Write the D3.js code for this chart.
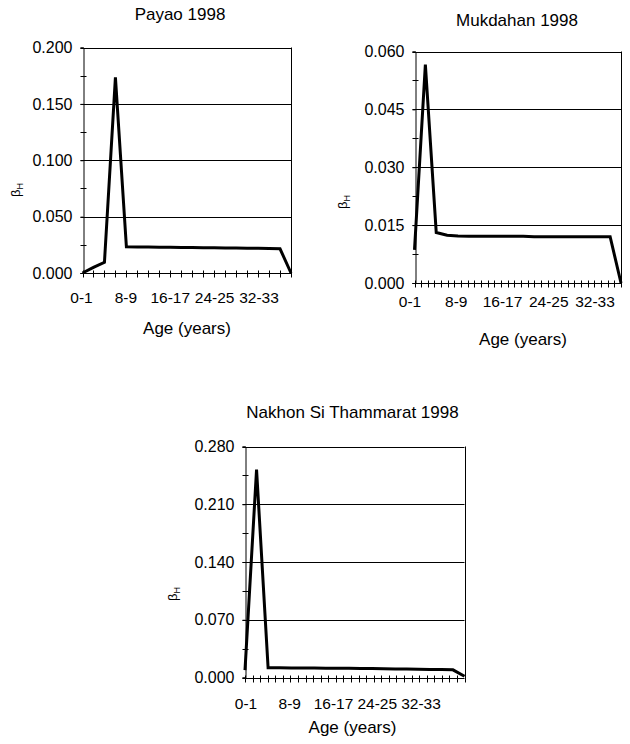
<!DOCTYPE html>
<html>
<head>
<meta charset="utf-8">
<script src="https://cdn.jsdelivr.net/npm/d3@7"></script>
<style>
  html, body { margin: 0; padding: 0; background: #fff; }
  svg { display: block; }
  text { font-family: "Liberation Sans", Arial, sans-serif; fill: #000; }
</style>
</head>
<body>
<svg id="chart" width="630" height="744"></svg>
<script>
// ---- Data ----
const categories = ["0-1","2-3","4-5","6-7","8-9","10-11","12-13","14-15","16-17","18-19",
                    "20-21","22-23","24-25","26-27","28-29","30-31","32-33","34-35","36-37","38-39"];
const ageTickLabels = ["0-1","8-9","16-17","24-25","32-33"];

const payaoValues = [0.000, 0.005, 0.0095, 0.1735, 0.0232, 0.0231, 0.0230, 0.0229, 0.0228, 0.0227,
                     0.0226, 0.0225, 0.0224, 0.0222, 0.0221, 0.0220, 0.0219, 0.0217, 0.0215, 0.000];
const mukdahanValues = [0.0086, 0.0566, 0.0131, 0.0124, 0.0122, 0.0121, 0.0121, 0.0121, 0.0121, 0.0121,
                        0.0121, 0.0120, 0.0120, 0.0120, 0.0120, 0.0120, 0.0120, 0.0120, 0.0120, 0.000];
const nakhonValues = [0.009, 0.252, 0.0118, 0.0117, 0.0116, 0.0115, 0.0114, 0.0113, 0.0112, 0.0111,
                      0.0110, 0.0108, 0.0106, 0.0104, 0.0102, 0.0100, 0.0098, 0.0096, 0.0093, 0.0015];

const payaoTicks = [0.000, 0.050, 0.100, 0.150, 0.200];
const mukdahanTicks = [0.000, 0.015, 0.030, 0.045, 0.060];
const nakhonTicks = [0.000, 0.070, 0.140, 0.210, 0.280];

const titles = ["Payao 1998", "Mukdahan 1998", "Nakhon Si Thammarat 1998"];
const xAxisTitle = "Age (years)";

// ---- Layout (positions only) ----
const panels = [
  { title: titles[0], values: payaoValues, ticks: payaoTicks,
    L: 82.5, R: 291, T: 47.5, B: 273, xTickIntervals: 19,
    labelRange: [81.5, 259], labelY: 303, titleX: 180, titleY: 20, ylabX: 20, ylabY: 190,
    xTitleX: 187, xTitleY: 334 },
  { title: titles[1], values: mukdahanValues, ticks: mukdahanTicks,
    L: 414.5, R: 621, T: 51.5, B: 283, xTickIntervals: 31,
    labelRange: [410, 595], labelY: 307, titleX: 517, titleY: 26, ylabX: 347, ylabY: 202,
    xTitleX: 523, xTitleY: 345 },
  { title: titles[2], values: nakhonValues, ticks: nakhonTicks,
    L: 245, R: 464.5, T: 446.5, B: 677.5, xTickIntervals: 29,
    labelRange: [246, 421], labelY: 709, titleX: 352.5, titleY: 418, ylabX: 177, ylabY: 594,
    xTitleX: 352.5, xTitleY: 733 }
];

const svg = d3.select("#chart");

panels.forEach(p => {
  const g = svg.append("g");
  const yMax = p.ticks[p.ticks.length - 1];
  const x = d3.scalePoint().domain(categories).range([p.L, p.R]);
  const y = d3.scaleLinear().domain([0, yMax]).range([p.B, p.T]);

  // gridlines
  g.selectAll("line.grid").data(p.ticks.filter(t => t > 0)).join("line")
    .attr("x1", p.L).attr("x2", p.R)
    .attr("y1", d => Math.round(y(d)) + 0.5).attr("y2", d => Math.round(y(d)) + 0.5)
    .attr("stroke", "#000").attr("stroke-width", 1);

  // right border
  g.append("line")
    .attr("x1", Math.round(p.R) + 0.5).attr("x2", Math.round(p.R) + 0.5)
    .attr("y1", y(yMax)).attr("y2", p.B)
    .attr("stroke", "#000").attr("stroke-width", 1);

  // y axis
  const yAxis = d3.axisLeft(y).tickValues(p.ticks).tickFormat(d3.format(".3f"))
    .tickSize(3).tickPadding(8);
  const ya = g.append("g").attr("transform", `translate(${Math.round(p.L) + 0.5},0)`).call(yAxis);
  ya.select(".domain").attr("stroke", "#000");
  ya.selectAll(".tick text").attr("font-size", 16).attr("font-family", "Liberation Sans, Arial, sans-serif");
  // minor y ticks (half steps), crossing axis
  const step = p.ticks[1] - p.ticks[0];
  const minor = d3.range(0, p.ticks.length * 2 - 1).map(i => i * step / 2);
  g.selectAll("line.ymin").data(minor).join("line")
    .attr("x1", Math.round(p.L) + 0.5 - 3).attr("x2", Math.round(p.L) + 0.5 + 3)
    .attr("y1", d => Math.round(y(d)) + 0.5).attr("y2", d => Math.round(y(d)) + 0.5)
    .attr("stroke", "#000").attr("stroke-width", 1);

  // x axis line
  g.append("line")
    .attr("x1", p.L).attr("x2", p.R)
    .attr("y1", Math.round(p.B) + 0.5).attr("y2", Math.round(p.B) + 0.5)
    .attr("stroke", "#000").attr("stroke-width", 1);
  // x tick marks (crossing axis)
  const xt = d3.scaleLinear().domain([0, p.xTickIntervals]).range([p.L, p.R]);
  g.selectAll("line.xt").data(d3.range(0, p.xTickIntervals + 1)).join("line")
    .attr("x1", d => Math.round(xt(d)) + 0.5).attr("x2", d => Math.round(xt(d)) + 0.5)
    .attr("y1", Math.round(p.B) + 0.5 - 3).attr("y2", Math.round(p.B) + 0.5 + 4)
    .attr("stroke", "#000").attr("stroke-width", 1);
  // x tick labels
  const xl = d3.scalePoint().domain(ageTickLabels).range(p.labelRange);
  g.selectAll("text.xl").data(ageTickLabels).join("text")
    .attr("x", d => xl(d)).attr("y", p.labelY)
    .attr("text-anchor", "middle").attr("font-size", 15.5)
    .text(d => d);

  // data line
  const line = d3.line().x((d, i) => x(categories[i])).y(d => y(d));
  g.append("path").datum(p.values)
    .attr("d", line)
    .attr("fill", "none").attr("stroke", "#000").attr("stroke-width", 3)
    .attr("stroke-linejoin", "miter").attr("stroke-miterlimit", 10);

  // title
  g.append("text").attr("x", p.titleX).attr("y", p.titleY)
    .attr("text-anchor", "middle").attr("font-size", 17).text(p.title);
  // x axis title
  g.append("text").attr("x", p.xTitleX).attr("y", p.xTitleY)
    .attr("text-anchor", "middle").attr("font-size", 17).text(xAxisTitle);
  // y axis title beta_H
  const yl = g.append("text")
    .attr("transform", `translate(${p.ylabX},${p.ylabY}) rotate(-90)`)
    .attr("text-anchor", "middle").attr("font-size", 13);
  yl.append("tspan").text("β");
  yl.append("tspan").attr("font-size", 9).attr("dy", 3).text("H");
});
</script>
</body>
</html>
